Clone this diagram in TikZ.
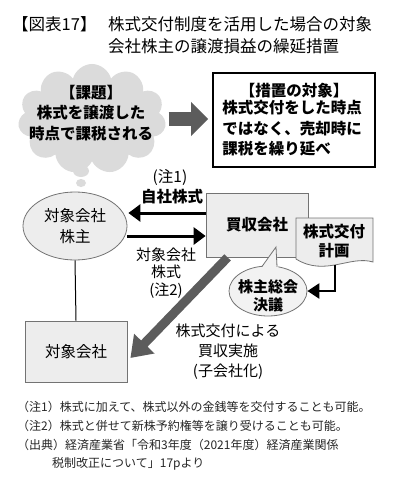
\documentclass[tikz,border=0pt]{standalone}
\usepackage{fontspec}
\setmainfont{Noto Sans CJK JP}
\usetikzlibrary{arrows.meta, positioning, shapes.symbols, shapes.geometric, calc}
\definecolor{arrowgray}{gray}{0.36}
\definecolor{boxgray}{gray}{0.93}
\definecolor{palegray}{gray}{0.95}
\definecolor{cloudgray}{gray}{0.86}
\definecolor{linegray}{gray}{0.45}
\tikzstyle{plain} = [inner sep=0pt, align=center, font=\fontsize{15.5}{21}\selectfont]
\tikzstyle{strong} = [inner sep=0pt, align=center, font=\fontsize{15.5}{20.5}\selectfont\bfseries]
\tikzstyle{headline} = [inner sep=0pt, anchor=west, font=\fontsize{16.5}{22}\selectfont]
\tikzstyle{remark} = [inner sep=0pt, anchor=west, text=black!85, font=\fontsize{12}{14}\selectfont]
\tikzstyle{box} = [draw=linegray, fill=boxgray, rectangle, line width=0.8pt]
\tikzstyle{oval} = [draw=linegray, fill=boxgray, ellipse, inner sep=0pt, line width=0.8pt]
\tikzstyle{transfer} = [-{Triangle[length=12pt, width=17pt]}, line width=3pt]
\tikzstyle{bigflow} = [-{Triangle[length=17pt, width=33pt]}, line width=14pt, arrowgray]
\tikzstyle{slantflow} = [-{Triangle[length=20pt, width=27pt]}, line width=9pt, arrowgray]

\begin{document}
\begin{tikzpicture}[x=1pt, y=-1pt]
    \useasboundingbox (0,0) rectangle (400,489);

    % Title.
    \node (figno) [headline] at (12,24) {【図表17】};
    \node (title1) [headline] at (108,24) {株式交付制度を活用した場合の対象};
    \node (title2) [headline] at (108,46) {会社株主の譲渡損益の繰延措置};

    % Problem and measure.
    \node (problem) [cloud, cloud puffs=11, cloud ignores aspect, fill=cloudgray, inner sep=0pt,
        minimum width=148, minimum height=110] at (92,119) {};
    \node (problemtext) [strong] at (91,113) {【課題】\\株式を譲渡した\\時点で課税される};
    \node (bubble1) [ellipse, fill=cloudgray, inner sep=0pt, minimum width=16, minimum height=12] at (81,171) {};
    \node (bubble2) [ellipse, fill=cloudgray, inner sep=0pt, minimum width=10, minimum height=8] at (81,183) {};

    \node (measure) [draw, line width=1.6pt, minimum width=162, minimum height=94] at (294,120) {};
    \node (measurehead) [strong, below=11pt of measure.north] {【措置の対象】};
    \node (measuretext) [strong, align=left, anchor=north west] at ($(measure.north west)+(10,28)$)
        {株式交付をした時点\\ではなく、売却時に\\課税を繰り延べ};

    \draw [bigflow, shorten <=4pt, shorten >=4pt] (problem.east) -- (problem.east -| measure.west);

    % Parties.
    \node (owner) [oval, plain, minimum width=104, minimum height=68] at (75,226) {対象会社\\株主};
    \node (buyer) [box, strong, minimum width=102, minimum height=64] at (257,225) {買収会社};
    \node (target) [box, plain, minimum width=102, minimum height=61] at (76,351.5) {対象会社};

    \filldraw [box] (296,218) -- (373,218) -- (373,262) .. controls (350,255) and (325,277) .. (296,259) -- cycle;
    \node (plan) [strong, font=\fontsize{15.5}{19}\selectfont\bfseries] at (334,241) {株式交付\\計画};
    \coordinate (planfoot) at (335,265);

    \node (meeting) [oval, fill=palegray, minimum width=78, minimum height=50] at (268,291) {};
    \fill [palegray] (261,269) -- (276,247) -- (278.5,269) -- cycle;
    \draw [linegray, line width=0.8pt] (262,266.5) -- (276,247) -- (277,266.9);
    \node (meetingtext) [strong, font=\fontsize{15}{18.5}\selectfont\bfseries] at (268,296) {株主総会\\決議};

    % Labels.
    \node (note1) [plain] at (170,177) {(注1)};
    \node (ownshare) [strong] at (172,197) {自社株式};
    \node (targetshare) [plain, font=\fontsize{15}{17.5}\selectfont] at (166,273) {対象会社\\株式\\(注2)};
    \node (acquire) [plain, font=\fontsize{15}{20}\selectfont] at (228,352) {株式交付による\\買収実施\\(子会社化)};

    % Arrows.
    \draw [transfer] ($(buyer.west)+(0,-12)$) -- ($(owner.east)+(1,-13)$);
    \draw [transfer] ($(owner.east)+(0,10)$) -- ($(buyer.west)+(0,11)$);
    \draw [line width=2.5pt, -{Triangle[length=12pt, width=15pt]}] (planfoot) |- (meeting.east);
    \draw [line width=1pt] (owner.south) -- (target.north);
    \draw [slantflow] ($(buyer.south west)+(22,0)$) -- ($(target.east)+(3,6.5)$);

    % Notes.
    \node (foot1) [remark] at (17,407) {（注1）株式に加えて、株式以外の金銭等を交付することも可能。};
    \node (foot2) [remark] at (17,426) {（注2）株式と併せて新株予約権等を譲り受けることも可能。};
    \node (foot3) [remark] at (17,445) {（出典）経済産業省「令和3年度（2021年度）経済産業関係};
    \node (foot4) [remark] at (52,464) {税制改正について」17pより};
\end{tikzpicture}
\end{document}
